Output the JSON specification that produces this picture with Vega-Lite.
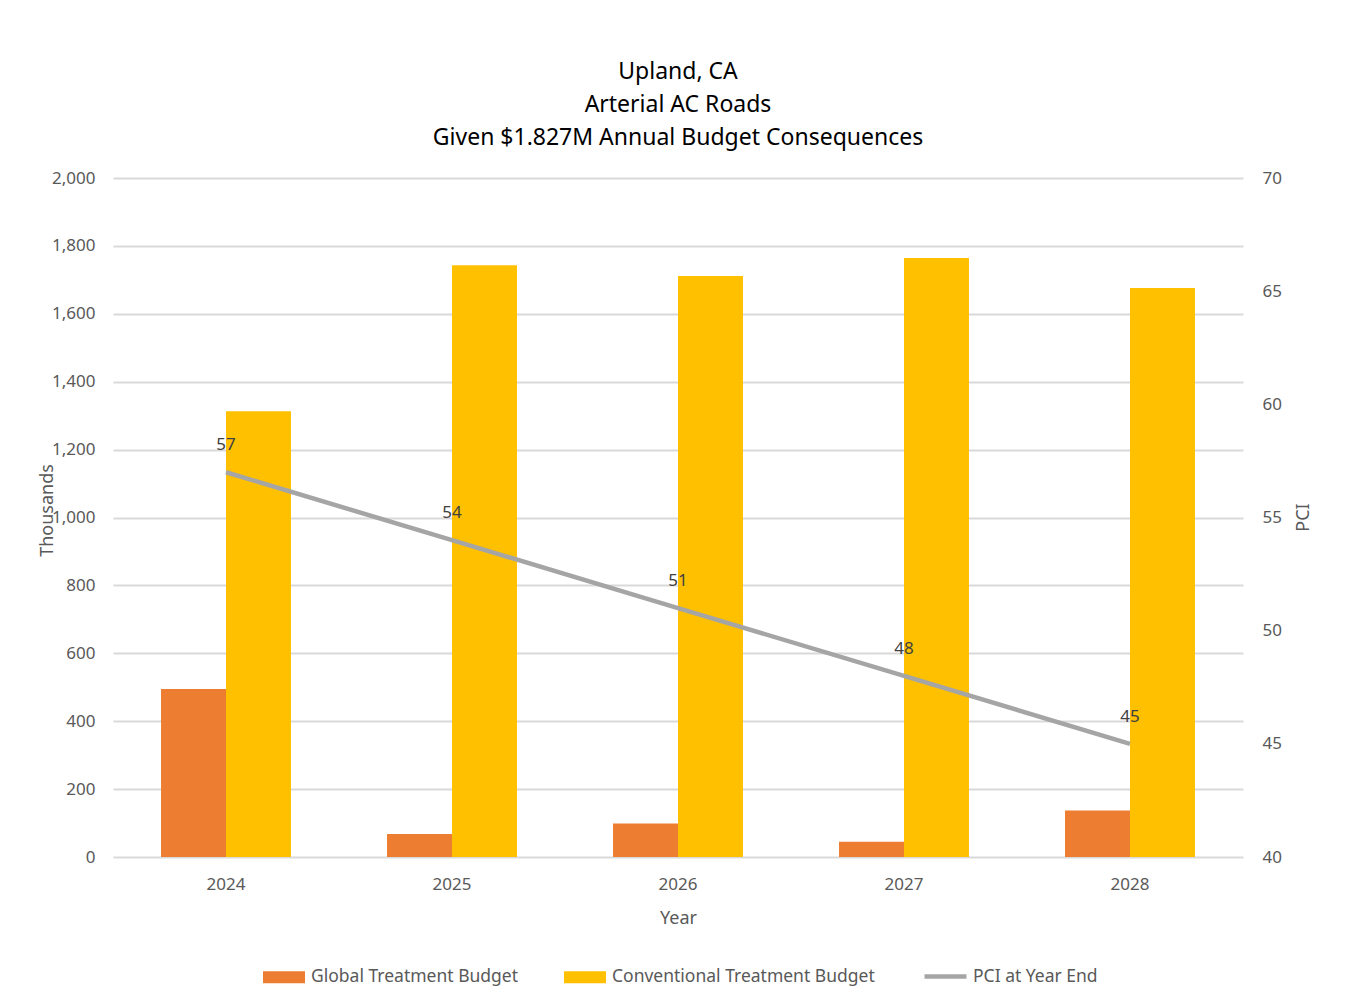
{
  "$schema": "https://vega.github.io/schema/vega-lite/v6.json",
  "width": 1130,
  "height": 679,
  "autosize": {"type": "none"},
  "padding": {"left": 113, "top": 178, "right": 104, "bottom": 150},
  "background": "white",
  "title": {
    "text": ["Upland, CA", "Arterial AC Roads", "Given $1.827M Annual Budget Consequences"],
    "anchor": "middle",
    "font": "Noto Sans",
    "fontSize": 23,
    "fontWeight": "normal",
    "color": "#000000",
    "lineHeight": 33,
    "offset": 19
  },
  "config": {
    "view": {"stroke": null},
    "font": "Noto Sans",
    "axis": {
      "labelFont": "Noto Sans",
      "labelFontSize": 17,
      "labelColor": "#595959",
      "titleFont": "Noto Sans",
      "titleFontSize": 18,
      "titleFontWeight": "normal",
      "titleColor": "#595959",
      "ticks": false,
      "domain": false,
      "grid": false
    },
    "legend": {
      "labelFont": "Noto Sans",
      "labelFontSize": 17.5,
      "labelColor": "#595959",
      "labelLimit": 400
    }
  },
  "datasets": {
    "budget": [
      {"Year": "2024", "Series": "Global Treatment Budget", "Budget": 495},
      {"Year": "2024", "Series": "Conventional Treatment  Budget", "Budget": 1313},
      {"Year": "2025", "Series": "Global Treatment Budget", "Budget": 68},
      {"Year": "2025", "Series": "Conventional Treatment  Budget", "Budget": 1743},
      {"Year": "2026", "Series": "Global Treatment Budget", "Budget": 99},
      {"Year": "2026", "Series": "Conventional Treatment  Budget", "Budget": 1711},
      {"Year": "2027", "Series": "Global Treatment Budget", "Budget": 45},
      {"Year": "2027", "Series": "Conventional Treatment  Budget", "Budget": 1764},
      {"Year": "2028", "Series": "Global Treatment Budget", "Budget": 137},
      {"Year": "2028", "Series": "Conventional Treatment  Budget", "Budget": 1676}
    ],
    "pci": [
      {"Year": "2024", "Series": "PCI at Year End", "PCI": 57},
      {"Year": "2025", "Series": "PCI at Year End", "PCI": 54},
      {"Year": "2026", "Series": "PCI at Year End", "PCI": 51},
      {"Year": "2027", "Series": "PCI at Year End", "PCI": 48},
      {"Year": "2028", "Series": "PCI at Year End", "PCI": 45}
    ]
  },
  "layer": [
    {
      "data": {"name": "budget"},
      "mark": {"type": "bar"},
      "encoding": {
        "x": {
          "field": "Year", "type": "nominal",
          "scale": {"paddingInner": 0.425, "paddingOuter": 0.2125},
          "axis": {"title": "Year", "labelAngle": 0, "labelPadding": 19, "titlePadding": 17, "grid": false}
        },
        "xOffset": {
          "field": "Series", "type": "nominal",
          "sort": ["Global Treatment Budget", "Conventional Treatment  Budget"],
          "scale": {"paddingInner": 0, "paddingOuter": 0}
        },
        "y": {
          "field": "Budget", "type": "quantitative",
          "scale": {"domain": [0, 2000], "nice": false},
          "axis": {
            "title": "Thousands", "values": [0, 200, 400, 600, 800, 1000, 1200, 1400, 1600, 1800, 2000],
            "format": ",d", "labelPadding": 18, "grid": true, "gridColor": "#d9d9d9", "gridWidth": 2,
            "titleX": -66, "titleY": 332, "titleAngle": -90, "titleBaseline": "middle"
          }
        },
        "color": {
          "field": "Series", "type": "nominal",
          "sort": ["Global Treatment Budget", "Conventional Treatment  Budget"],
          "scale": {"domain": ["Global Treatment Budget", "Conventional Treatment  Budget"], "range": ["#ed7d31", "#ffc000"]},
          "legend": {
            "title": null, "orient": "none", "direction": "horizontal",
            "legendX": 150, "legendY": 778,
            "symbolType": "M-1,-0.29H1V0.29H-1Z", "symbolSize": 1764, "symbolStrokeWidth": 0,
            "labelOffset": 6, "columnPadding": 45
          }
        }
      }
    },
    {
      "data": {"name": "pci"},
      "layer": [
        {
          "mark": {"type": "line", "strokeWidth": 4.5, "color": "#a5a5a5"},
          "encoding": {
            "x": {"field": "Year", "type": "nominal"},
            "y": {
              "field": "PCI", "type": "quantitative",
              "scale": {"domain": [40, 70], "nice": false, "zero": false},
              "axis": {"title": "PCI", "orient": "right", "values": [40, 45, 50, 55, 60, 65, 70], "labelPadding": 19, "titleAngle": -90, "titleX": 60, "titleY": 339, "titleBaseline": "middle", "titleAlign": "center"}
            },
            "stroke": {
              "field": "Series", "type": "nominal",
              "scale": {"range": ["#a5a5a5"]},
              "legend": {
                "title": null, "orient": "none", "legendX": 809, "legendY": 775,
                "symbolType": "stroke", "symbolSize": 1764, "symbolStrokeWidth": 4.5,
                "labelOffset": 4
              }
            }
          }
        },
        {
          "mark": {"type": "text", "dy": -27, "fontSize": 17, "color": "#404040", "font": "Noto Sans"},
          "encoding": {
            "x": {"field": "Year", "type": "nominal"},
            "y": {"field": "PCI", "type": "quantitative"},
            "text": {"field": "PCI", "type": "quantitative"}
          }
        }
      ]
    }
  ],
  "resolve": {"scale": {"y": "independent", "color": "independent"}}
}
